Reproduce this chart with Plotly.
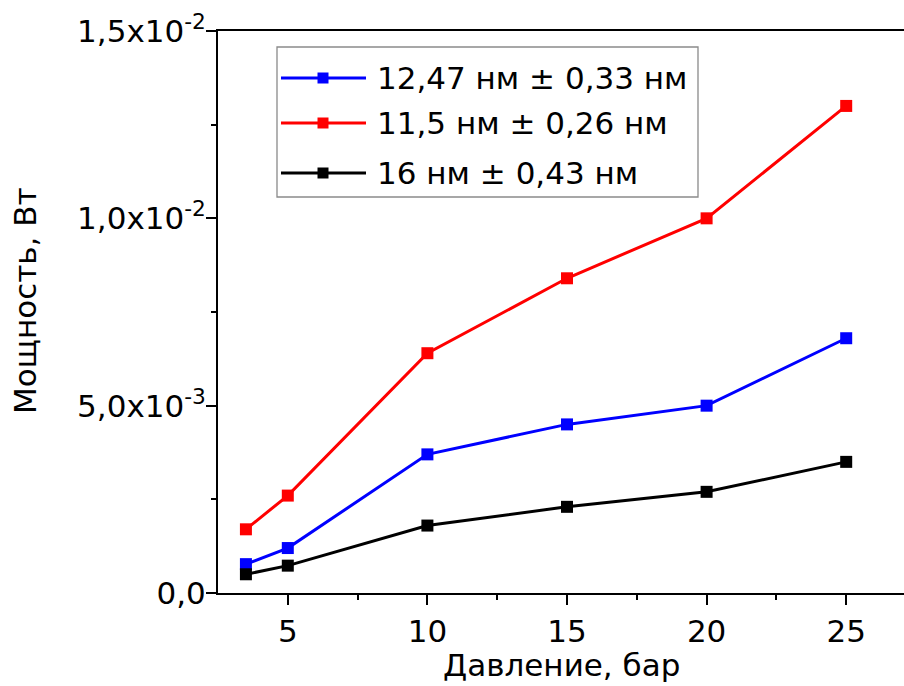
import plotly.graph_objects as go

# Pressure, bar
pressure = [3.5, 5, 10, 15, 20, 25]

# Output power, W, for three particle sizes
power_1247 = [0.00077, 0.0012, 0.0037, 0.0045, 0.0050, 0.0068]
power_115 = [0.0017, 0.0026, 0.0064, 0.0084, 0.0100, 0.0130]
power_16 = [0.0005, 0.00073, 0.0018, 0.0023, 0.0027, 0.0035]

series_names = ["12,47 нм ± 0,33 нм", "11,5 нм ± 0,26 нм", "16 нм ± 0,43 нм"]
series_colors = ["#0000ff", "#ff0000", "#000000"]
series_values = [power_1247, power_115, power_16]

x_ticks = [5, 10, 15, 20, 25]
y_ticks = [0.0, 0.005, 0.010, 0.015]
y_tick_labels = ["0,0", "5,0x10<sup>-3</sup>", "1,0x10<sup>-2</sup>", "1,5x10<sup>-2</sup>"]

x_title = "Давление, бар"
y_title = "Мощность, Вт"

FONT = "DejaVu Sans"
FS = 31
W, H = 904, 686
L, T, B = 218, 31, 93
PW, PH = W - L, H - T - B

fig = go.Figure()
for name, color, vals in zip(series_names, series_colors, series_values):
    fig.add_trace(go.Scatter(
        x=pressure, y=vals, name=name, mode="lines+markers",
        line=dict(color=color, width=3),
        marker=dict(symbol="square", size=12, color=color),
        showlegend=False,
    ))


def px_x(p):
    return (p - L) / PW


def px_y(p):
    return (H - B - p) / PH


shapes = []
annotations = []

# legend box with line/marker samples
shapes.append(dict(type="rect", xref="paper", yref="paper",
                   x0=px_x(277), x1=px_x(698), y0=px_y(197), y1=px_y(47),
                   line=dict(color="#8a8a8a", width=1.3), fillcolor="white"))
rows = [78, 123, 173]
for name, color, ry in zip(series_names, series_colors, rows):
    shapes.append(dict(type="line", xref="paper", yref="paper",
                       x0=px_x(281), x1=px_x(366), y0=px_y(ry), y1=px_y(ry),
                       line=dict(color=color, width=3)))
    shapes.append(dict(type="rect", xref="paper", yref="paper",
                       x0=px_x(317.5), x1=px_x(328.5), y0=px_y(ry + 5.5), y1=px_y(ry - 5.5),
                       line=dict(width=0), fillcolor=color))
    annotations.append(dict(xref="paper", yref="paper", x=px_x(375), y=px_y(ry),
                            xanchor="left", yanchor="middle", showarrow=False,
                            text=name, font=dict(family=FONT, size=FS, color="black")))

# axis titles
annotations.append(dict(xref="paper", yref="paper", x=0.5, y=px_y(665),
                        xanchor="center", yanchor="middle", showarrow=False,
                        text=x_title, font=dict(family=FONT, size=FS, color="black")))
annotations.append(dict(xref="paper", yref="paper", x=px_x(25), y=px_y(301),
                        xanchor="center", yanchor="middle", showarrow=False, textangle=-90,
                        text=y_title, font=dict(family=FONT, size=FS, color="black")))

fig.update_layout(
    width=W, height=H,
    margin=dict(l=L, r=0, t=T, b=B, pad=0),
    plot_bgcolor="white", paper_bgcolor="white",
    font=dict(family=FONT, size=FS, color="black"),
    shapes=shapes, annotations=annotations,
    showlegend=False,
)
fig.update_xaxes(
    range=[2.5, 2.5 + PW / 27.92],
    tickvals=x_ticks, ticktext=[str(v) for v in x_ticks],
    ticks="outside", ticklen=10, tickwidth=2, tickcolor="black",
    showline=True, linecolor="black", linewidth=2, mirror=True,
    showgrid=False, zeroline=False,
    minor=dict(tickvals=[7.5, 12.5, 17.5, 22.5], ticks="outside", ticklen=5,
               tickwidth=2, tickcolor="black", showgrid=False),
    tickfont=dict(family=FONT, size=FS, color="black"),
)
fig.update_yaxes(
    range=[0, 0.015],
    tickvals=y_ticks, ticktext=y_tick_labels,
    ticks="outside", ticklen=10, tickwidth=2, tickcolor="black",
    showline=True, linecolor="black", linewidth=2, mirror=False,
    showgrid=False, zeroline=False,
    ticklabelstandoff=-6,
    minor=dict(tickvals=[0.0025, 0.0075, 0.0125], ticks="outside", ticklen=5,
               tickwidth=2, tickcolor="black", showgrid=False),
    tickfont=dict(family=FONT, size=FS, color="black"),
)

fig.write_html("out.html")
